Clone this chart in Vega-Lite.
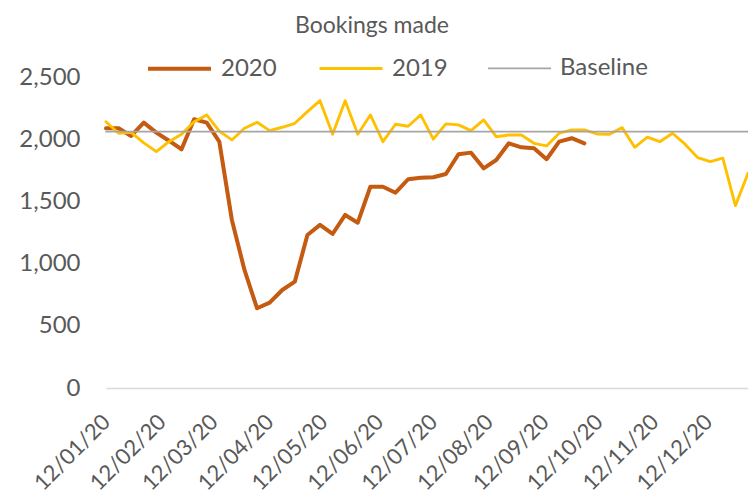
{
  "$schema": "https://vega.github.io/schema/vega-lite/v6.json",
  "width": 642,
  "height": 311,
  "autosize": {"type": "none"},
  "padding": {"left": 106, "top": 77, "right": 0, "bottom": 106},
  "background": "white",
  "config": {"view": {"stroke": null}, "font": "Lato"},
  "title": {"text": "Bookings made", "fontSize": 23, "fontWeight": "normal", "color": "#595959", "font": "Lato", "frame": "group", "anchor": "middle", "dx": -55, "offset": -3},
  "data": {"values": [
    {"date": "2020-01-12", "2020": 2088, "2019": 2140, "Baseline": 2060},
    {"date": "2020-01-19", "2020": 2088, "2019": 2048, "Baseline": 2060},
    {"date": "2020-01-26", "2020": 2026, "2019": 2055, "Baseline": 2060},
    {"date": "2020-02-02", "2020": 2133, "2019": 1970, "Baseline": 2060},
    {"date": "2020-02-09", "2020": 2053, "2019": 1900, "Baseline": 2060},
    {"date": "2020-02-16", "2020": 1988, "2019": 1980, "Baseline": 2060},
    {"date": "2020-02-23", "2020": 1919, "2019": 2040, "Baseline": 2060},
    {"date": "2020-03-01", "2020": 2160, "2019": 2141, "Baseline": 2060},
    {"date": "2020-03-08", "2020": 2133, "2019": 2195, "Baseline": 2060},
    {"date": "2020-03-15", "2020": 1980, "2019": 2065, "Baseline": 2060},
    {"date": "2020-03-22", "2020": 1351, "2019": 1994, "Baseline": 2060},
    {"date": "2020-03-29", "2020": 949, "2019": 2088, "Baseline": 2060},
    {"date": "2020-04-05", "2020": 641, "2019": 2136, "Baseline": 2060},
    {"date": "2020-04-12", "2020": 686, "2019": 2069, "Baseline": 2060},
    {"date": "2020-04-19", "2020": 788, "2019": 2096, "Baseline": 2060},
    {"date": "2020-04-26", "2020": 855, "2019": 2128, "Baseline": 2060},
    {"date": "2020-05-03", "2020": 1230, "2019": 2222, "Baseline": 2060},
    {"date": "2020-05-10", "2020": 1311, "2019": 2310, "Baseline": 2060},
    {"date": "2020-05-17", "2020": 1238, "2019": 2040, "Baseline": 2060},
    {"date": "2020-05-24", "2020": 1391, "2019": 2310, "Baseline": 2060},
    {"date": "2020-05-31", "2020": 1329, "2019": 2040, "Baseline": 2060},
    {"date": "2020-06-07", "2020": 1618, "2019": 2195, "Baseline": 2060},
    {"date": "2020-06-14", "2020": 1618, "2019": 1980, "Baseline": 2060},
    {"date": "2020-06-21", "2020": 1570, "2019": 2120, "Baseline": 2060},
    {"date": "2020-06-28", "2020": 1678, "2019": 2104, "Baseline": 2060},
    {"date": "2020-07-05", "2020": 1690, "2019": 2195, "Baseline": 2060},
    {"date": "2020-07-12", "2020": 1694, "2019": 2000, "Baseline": 2060},
    {"date": "2020-07-19", "2020": 1720, "2019": 2123, "Baseline": 2060},
    {"date": "2020-07-26", "2020": 1879, "2019": 2115, "Baseline": 2060},
    {"date": "2020-08-02", "2020": 1892, "2019": 2069, "Baseline": 2060},
    {"date": "2020-08-09", "2020": 1766, "2019": 2155, "Baseline": 2060},
    {"date": "2020-08-16", "2020": 1833, "2019": 2020, "Baseline": 2060},
    {"date": "2020-08-23", "2020": 1967, "2019": 2034, "Baseline": 2060},
    {"date": "2020-08-30", "2020": 1935, "2019": 2034, "Baseline": 2060},
    {"date": "2020-09-06", "2020": 1927, "2019": 1967, "Baseline": 2060},
    {"date": "2020-09-13", "2020": 1839, "2019": 1946, "Baseline": 2060},
    {"date": "2020-09-20", "2020": 1980, "2019": 2048, "Baseline": 2060},
    {"date": "2020-09-27", "2020": 2008, "2019": 2074, "Baseline": 2060},
    {"date": "2020-10-04", "2020": 1967, "2019": 2074, "Baseline": 2060},
    {"date": "2020-10-11", "2019": 2042, "Baseline": 2060},
    {"date": "2020-10-18", "2019": 2040, "Baseline": 2060},
    {"date": "2020-10-25", "2019": 2093, "Baseline": 2060},
    {"date": "2020-11-01", "2019": 1935, "Baseline": 2060},
    {"date": "2020-11-08", "2019": 2016, "Baseline": 2060},
    {"date": "2020-11-15", "2019": 1980, "Baseline": 2060},
    {"date": "2020-11-22", "2019": 2048, "Baseline": 2060},
    {"date": "2020-11-29", "2019": 1960, "Baseline": 2060},
    {"date": "2020-12-06", "2019": 1852, "Baseline": 2060},
    {"date": "2020-12-13", "2019": 1820, "Baseline": 2060},
    {"date": "2020-12-20", "2019": 1847, "Baseline": 2060},
    {"date": "2020-12-27", "2019": 1466, "Baseline": 2060},
    {"date": "2021-01-03", "2019": 1726, "Baseline": 2060}
  ]},
  "transform": [{"fold": ["2020", "2019", "Baseline"], "as": ["series", "value"]}],
  "mark": {"type": "line", "interpolate": "linear", "strokeJoin": "round", "strokeCap": "round"},
  "encoding": {
    "x": {
      "field": "date", "type": "temporal",
      "scale": {"type": "utc", "domain": [{"year": 2020, "month": 1, "date": 12, "utc": true}, {"year": 2021, "month": 1, "date": 3, "utc": true}]},
      "axis": {
        "title": null, "grid": false, "ticks": false,
        "domain": true, "domainColor": "#D9D9D9", "domainWidth": 1.5,
        "values": [
          {"year": 2020, "month": 1, "date": 12, "utc": true},
          {"year": 2020, "month": 2, "date": 12, "utc": true},
          {"year": 2020, "month": 3, "date": 12, "utc": true},
          {"year": 2020, "month": 4, "date": 12, "utc": true},
          {"year": 2020, "month": 5, "date": 12, "utc": true},
          {"year": 2020, "month": 6, "date": 12, "utc": true},
          {"year": 2020, "month": 7, "date": 12, "utc": true},
          {"year": 2020, "month": 8, "date": 12, "utc": true},
          {"year": 2020, "month": 9, "date": 12, "utc": true},
          {"year": 2020, "month": 10, "date": 12, "utc": true},
          {"year": 2020, "month": 11, "date": 12, "utc": true},
          {"year": 2020, "month": 12, "date": 12, "utc": true}
        ],
        "format": "%d/%m/%y",
        "labelAngle": -45, "labelAlign": "right", "labelBaseline": "middle",
        "labelPadding": 30, "labelFontSize": 22, "labelColor": "#595959", "labelFont": "Lato",
        "labelOverlap": false, "labelFlush": false, "labelBound": false
      }
    },
    "y": {
      "field": "value", "type": "quantitative",
      "scale": {"domain": [0, 2500], "nice": false, "zero": true},
      "axis": {
        "title": null, "grid": false, "ticks": false, "domain": false,
        "values": [0, 500, 1000, 1500, 2000, 2500], "format": ",.0f",
        "labelFontSize": 24, "labelColor": "#595959", "labelFont": "Lato", "labelPadding": 26
      }
    },
    "color": {
      "field": "series", "type": "nominal",
      "scale": {"domain": ["2020", "2019", "Baseline"], "range": ["#C55A11", "#FFC000", "#A5A5A5"]},
      "legend": {
        "orient": "none", "legendX": 40, "legendY": -42, "direction": "horizontal", "title": null,
        "symbolType": "stroke", "symbolSize": 3969, "labelFontSize": 24, "labelColor": "#595959", "labelFont": "Lato",
        "columnPadding": 36, "labelOffset": 8
      }
    },
    "strokeWidth": {
      "field": "series", "type": "nominal",
      "scale": {"domain": ["2020", "2019", "Baseline"], "range": [4, 1.75, 2]},
      "legend": {
        "orient": "none", "legendX": 40, "legendY": -42, "direction": "horizontal", "title": null,
        "symbolType": "stroke", "symbolSize": 3969, "labelFontSize": 24, "labelColor": "#595959", "labelFont": "Lato",
        "columnPadding": 36, "labelOffset": 8
      }
    }
  }
}
